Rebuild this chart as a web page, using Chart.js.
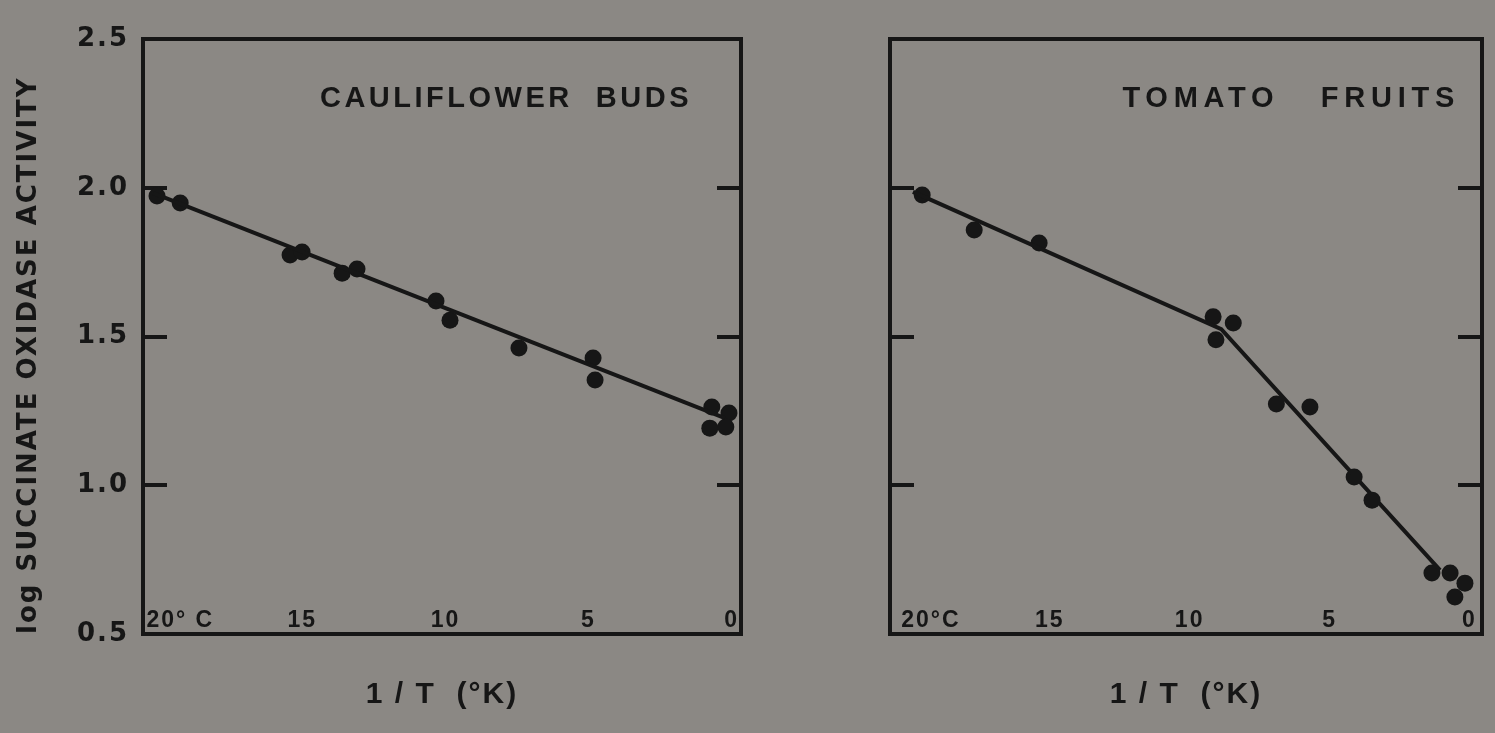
<!DOCTYPE html>
<html>
<head>
<meta charset="utf-8">
<title>Succinate oxidase activity vs 1/T</title>
<script src="https://cdn.jsdelivr.net/npm/chart.js@4.4.1/dist/chart.umd.min.js"></script>
<style>
  html, body { margin: 0; padding: 0; background: #8b8884; }
  body { width: 1495px; height: 733px; position: relative; overflow: hidden; }
  .panel { position: absolute; top: 0; height: 733px; }
  #left { left: 0; width: 760px; }
  #right { left: 760px; width: 735px; }
</style>
</head>
<body>
<div class="panel" id="left"><canvas id="chartCaul"></canvas></div>
<div class="panel" id="right"><canvas id="chartTom"></canvas></div>
<script>
// ---- data: temperature (°C) along the 1/T axis, log activity ----
const caulTemp = [20.08, 19.27, 15.43, 15.01, 13.61, 13.09, 10.33, 9.84, 7.43, 4.84, 4.77, 0.69, 0.09, 0.76, 0.20];
const caulLog  = [1.972, 1.949, 1.774, 1.784, 1.713, 1.727, 1.619, 1.555, 1.461, 1.428, 1.354, 1.263, 1.243, 1.192, 1.196];
const caulFitTemp = [20.21, 0.23];
const caulFitLog  = [1.982, 1.226];

const tomTemp = [19.56, 17.70, 15.38, 9.16, 8.44, 9.06, 6.90, 5.70, 4.12, 3.48, 1.34, 0.69, 0.16, 0.52];
const tomLog  = [1.976, 1.858, 1.814, 1.566, 1.545, 1.489, 1.273, 1.263, 1.028, 0.950, 0.705, 0.705, 0.671, 0.624];
const tomFitTemp = [19.89, 8.87, 1.05];
const tomFitLog  = [1.986, 1.525, 0.715];

const yTicks = [0.5, 1.0, 1.5, 2.0, 2.5];
const xTicks = [20, 15, 10, 5, 0];
// leading spaces keep the "20" digits over their tick
const xLabelsCaul = ['     20° C', '15', '10', '5', '0'];
const xLabelsTom  = ['     20°C', '15', '10', '5', '0'];

const INK = '#161616';

const toXY = (xs, ys) => xs.map((x, i) => ({ x, y: ys[i] }));

// wide lettering for every axis text (canvas state is reset on resize, so set it again before layout and draw)
const spacedText = {
  id: 'spacedText',
  beforeLayout(chart) { chart.ctx.letterSpacing = '2px'; },
  beforeDraw(chart) { chart.ctx.letterSpacing = '2px'; },
};

// panel name, lettered inside the frame near the top right
const panelName = {
  id: 'panelName',
  afterDatasetsDraw(chart, args, opts) {
    const { ctx, chartArea } = chart;
    ctx.save();
    ctx.font = 'bold 29px "Liberation Sans", Arial, sans-serif';
    ctx.letterSpacing = opts.spacing + 'px';
    ctx.fillStyle = INK;
    ctx.textAlign = 'right';
    ctx.textBaseline = 'middle';
    ctx.fillText(opts.text, chartArea.right - opts.right, chartArea.top + 60);
    ctx.restore();
  }
};

const frame = { display: true, width: 4, color: INK };
const innerTicks = { drawOnChartArea: false, drawTicks: true, tickLength: -24, lineWidth: 4, color: INK };
const noOverhang = s => { s.paddingTop = 0; s.paddingBottom = 0; s.paddingLeft = 0; s.paddingRight = 0; };

function makePanel(canvasId, o) {
  return new Chart(document.getElementById(canvasId), {
    type: 'scatter',
    data: {
      datasets: [
        { data: toXY(o.fitT, o.fitLog), showLine: true, borderColor: INK, borderWidth: 4, pointRadius: 0, clip: false },
        { data: toXY(o.t, o.log), pointRadius: 8.5, pointHoverRadius: 8.5, backgroundColor: INK, borderWidth: 0, clip: false },
      ],
    },
    options: {
      responsive: true,
      maintainAspectRatio: false,
      animation: false,
      events: [],
      layout: { padding: { top: 39, right: o.padRight, left: 0, bottom: 0 } },
      plugins: {
        legend: { display: false },
        tooltip: { enabled: false },
        panelName: { text: o.name, right: o.nameRight, spacing: o.nameSpacing },
      },
      scales: {
        x: {
          type: 'linear', position: 'bottom', reverse: true, min: o.xMin, max: o.xMax,
          afterBuildTicks: s => { s.ticks = xTicks.map(v => ({ value: v })); },
          afterFit: s => { s.height = 99; noOverhang(s); },
          grid: { display: false },
          border: frame,
          ticks: {
            mirror: true, padding: 0, color: INK, autoSkip: false, maxRotation: 0, minRotation: 0,
            font: { family: '"Liberation Sans", Arial, sans-serif', size: 23, weight: 'bold' },
            callback: (v, i) => o.xLabels[i],
          },
          title: {
            display: true, text: '1 / T  (°K)', color: INK,
            font: { family: '"Liberation Sans", Arial, sans-serif', size: 30, weight: 'bold' },
            padding: { top: 0, bottom: 20 },
          },
        },
        x2: {
          type: 'linear', position: 'top', reverse: true, min: o.xMin, max: o.xMax,
          afterFit: s => { s.height = 0; noOverhang(s); },
          grid: { display: false },
          border: frame,
          ticks: { display: false },
        },
        y: {
          type: 'linear', position: 'left', min: 0.5, max: 2.5,
          afterBuildTicks: s => { s.ticks = yTicks.map(v => ({ value: v })); },
          afterFit: s => { s.width = o.yWidth; noOverhang(s); },
          grid: innerTicks,
          border: frame,
          ticks: {
            display: o.yLabels, padding: 38, color: INK,
            font: { family: '"DejaVu Sans", sans-serif', size: 26, weight: 'bold' },
            callback: v => v.toFixed(1),
          },
          title: {
            display: o.yLabels, text: 'log SUCCINATE OXIDASE ACTIVITY', align: 'start', color: INK,
            font: { family: '"DejaVu Sans", sans-serif', size: 26, weight: 'bold' },
            padding: { top: 14, bottom: 0 },
          },
        },
        y2: {
          type: 'linear', position: 'right', min: 0.5, max: 2.5,
          afterBuildTicks: s => { s.ticks = yTicks.map(v => ({ value: v })); },
          afterFit: s => { s.width = 0; noOverhang(s); },
          grid: innerTicks,
          border: frame,
          ticks: { display: false },
        },
      },
    },
    plugins: [spacedText, panelName],
  });
}

makePanel('chartCaul', {
  t: caulTemp, log: caulLog, fitT: caulFitTemp, fitLog: caulFitLog,
  xMin: -0.33, xMax: 20.57, xLabels: xLabelsCaul,
  yWidth: 143, padRight: 19, yLabels: true,
  name: 'CAULIFLOWER  BUDS', nameRight: 49, nameSpacing: 3.5,
});

makePanel('chartTom', {
  t: tomTemp, log: tomLog, fitT: tomFitTemp, fitLog: tomFitLog,
  xMin: -0.45, xMax: 20.71, xLabels: xLabelsTom,
  yWidth: 130, padRight: 13, yLabels: false,
  name: 'TOMATO   FRUITS', nameRight: 22, nameSpacing: 5.75,
});
</script>
</body>
</html>
